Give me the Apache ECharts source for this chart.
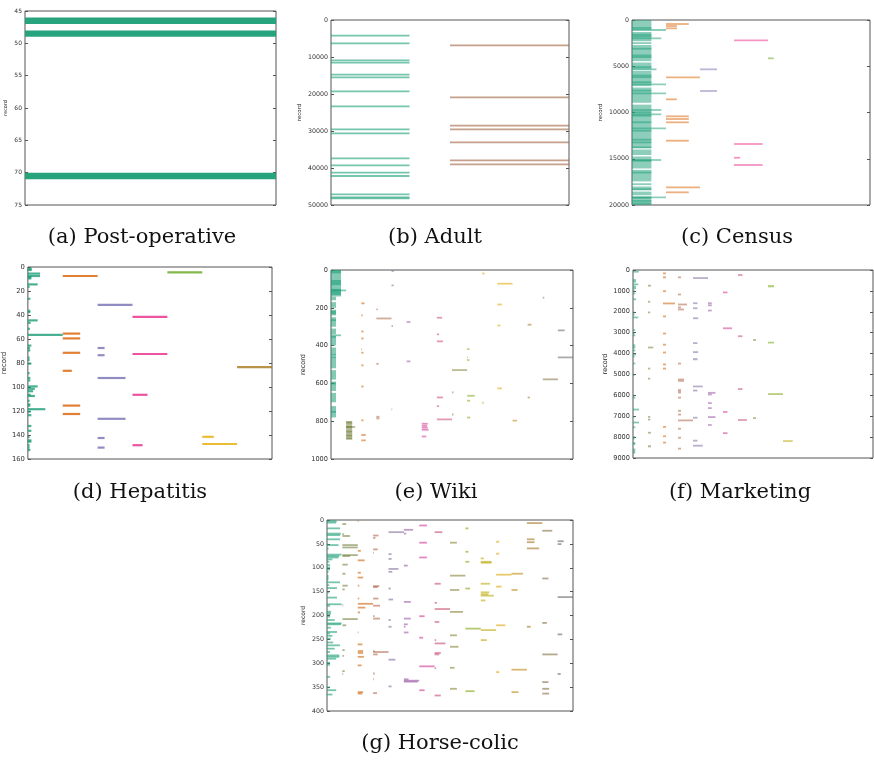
<!DOCTYPE html>
<html>
<head>
<meta charset="utf-8">
<script src="https://cdn.jsdelivr.net/npm/echarts@6/dist/echarts.min.js"></script>
<style>
  html, body { margin: 0; padding: 0; background: #fff; }
  #chart { width: 874px; height: 762px; }
</style>
</head>
<body>
<div id="chart"></div>
<script>
// each segment: [column, length (in columns), record, records spanned (default 1)]
const postopSegs = [[0, 1, 46], [0, 1, 48], [0, 1, 70]];

const adultGreen = [4234, 6306, 10900, 11532, 14775, 15495, 19279, 23333, 29550, 30630,
  37387, 39279, 41261, 42162, 47117, 47928, 48198];
const adultBrown = [6847, 20900, 28559, 29550, 33063, 37928, 39009];

const censusBlocks = [[0, 1100], [1300, 2300], [2400, 2600], [2700, 4450], [4600, 5350],
  [5500, 7150], [7300, 8950], [9150, 13850], [14000, 14600], [14750, 16050], [16200, 17450],
  [17650, 17850], [18000, 18400], [18550, 18950], [19100, 20000]];
const censusDark = [830, 1555, 1736, 3075, 3800, 3980, 5064, 5968, 6150, 6690, 7600, 9950,
  10310, 11030, 11940, 12910, 13200, 13745, 15190, 16460, 18270, 19170, 19530, 19790];
const censusSegs = [
  [0, 1.0, 1081], [0, 0.86, 1982], [0, 0.72, 5333], [0, 1.0, 6955], [0, 1.0, 7928],
  [0, 0.86, 9730], [0, 0.86, 10198], [0, 1.0, 11712], [0, 0.86, 15135], [0, 1.0, 19171],
  [1, 0.67, 432], [1, 0.32, 649], [1, 0.32, 900], [1, 1.0, 6198], [1, 0.32, 8576],
  [1, 0.67, 10414], [1, 0.67, 10703], [1, 0.67, 11063], [1, 0.67, 12950, 200],
  [1, 1.0, 18090], [1, 0.67, 18630],
  [2, 0.5, 5333], [2, 0.5, 7675],
  [3, 1.0, 2198], [3, 0.84, 13405], [3, 0.18, 14830, 120], [3, 0.84, 15676],
  [4, 0.17, 4144]
];

const hepatitisSegs = [
  [0, .11, 1], [0, .11, 2], [0, .35, 5], [0, .35, 7], [0, .1, 8], [0, .1, 9], [0, .28, 14],
  [0, .05, 16], [0, .07, 26], [0, .07, 36], [0, .07, 37], [0, .28, 44], [0, .08, 46],
  [0, .06, 51], [0, 1, 56], [0, .1, 65], [0, .06, 67], [0, .07, 69], [0, .05, 75],
  [0, .05, 77], [0, .1, 80], [0, .05, 88], [0, .07, 92], [0, .07, 94], [0, .28, 99],
  [0, .2, 101], [0, .15, 103], [0, .08, 106], [0, .2, 107], [0, .05, 111], [0, .07, 114],
  [0, .07, 115], [0, .5, 118], [0, .08, 120], [0, .1, 123], [0, .1, 132], [0, .1, 136],
  [0, .05, 141], [0, .1, 144], [0, .1, 145], [0, .05, 148], [0, .05, 150], [0, .07, 152],
  [1, 1, 7], [1, .5, 55], [1, .5, 59], [1, .5, 71], [1, .26, 86], [1, .5, 115], [1, .5, 122],
  [2, 1, 31], [2, .2, 67], [2, .2, 73], [2, .8, 92], [2, .8, 126], [2, .2, 142], [2, .2, 150],
  [3, 1, 41], [3, 1, 72], [3, .43, 106], [3, .29, 148],
  [4, 1, 4],
  [5, .33, 141], [5, 1, 147],
  [6, 1, 83]
];

const wikiSegs = [
  [0, .66, 0, 140], [0, .66, 0, 18], [0, .66, 53, 27], [0, .66, 100, 32],
  [0, 1, 106, 4], [0, .66, 344, 3],
  [0, .33, 141, 19], [0, .33, 170, 30], [0, .33, 210, 30], [0, .33, 250, 50],
  [0, .33, 310, 30], [0, .33, 350, 50], [0, .33, 410, 40], [0, .33, 460, 60],
  [0, .33, 530, 50], [0, .33, 590, 50], [0, .33, 650, 50], [0, .33, 720, 60],
  [0, .33, 220], [0, .33, 229], [0, .33, 265], [0, .33, 353], [0, .33, 450],
  [0, .33, 459], [0, .33, 600], [0, .33, 750],
  [1, .4, 799, 97], [1, .4, 805, 5], [1, .4, 828, 6], [1, .6, 829, 3], [1, .4, 852, 6],
  [1, .4, 873, 6], [1, .4, 888, 8],
  [2, .22, 176], [2, .1, 240], [2, .15, 325], [2, .15, 362], [2, .05, 420], [2, .15, 437],
  [2, .15, 504], [2, .15, 616], [2, .15, 795], [2, .3, 868, 10], [2, .3, 901],
  [3, .1, 208], [3, 1, 256], [3, .15, 496], [3, .2, 776], [3, .2, 785],
  [4, .15, 5], [4, .15, 81], [4, .1, 296], [4, .05, 737],
  [5, .25, 275], [5, .25, 483],
  [6, .4, 813], [6, .35, 824], [6, .4, 834], [6, .45, 845], [6, .3, 880],
  [7, .35, 252], [7, .15, 340], [7, .4, 377], [7, .4, 674], [7, .15, 720], [7, 1, 790],
  [8, 1, 529], [8, .1, 647], [8, .1, 764],
  [9, .15, 418], [9, .05, 462], [9, .15, 476], [9, .5, 665], [9, .2, 691], [9, .2, 780],
  [10, .15, 18], [10, .1, 702],
  [11, 1, 72], [11, .3, 182], [11, .2, 293], [11, .3, 626],
  [12, .3, 794, 6],
  [13, .25, 289], [13, .15, 674],
  [14, .1, 146], [14, 1, 578],
  [15, .45, 319], [15, 1, 462]
];

const marketingSegs = [
  [0, .38, 80], [0, .2, 480], [0, .2, 560], [0, .35, 690], [0, .2, 800], [0, .2, 880],
  [0, .1, 1000], [0, .15, 1120], [0, .2, 1360, 80], [0, .1, 2030], [0, .1, 2130],
  [0, .35, 2270], [0, .15, 2880], [0, .1, 3040], [0, .15, 3130], [0, .15, 3560, 200],
  [0, .15, 3850], [0, .2, 4040], [0, .1, 4140], [0, .15, 4475], [0, .1, 5030],
  [0, .1, 6010], [0, .15, 6110], [0, .4, 6680], [0, .1, 7030], [0, .4, 7300],
  [0, .15, 7530], [0, .15, 8000], [0, .1, 8070], [0, .15, 8280], [0, .15, 8330],
  [0, .15, 8550, 240],
  [1, .2, 720, 60], [1, .15, 1520], [1, .15, 2030], [1, .35, 3710], [1, .15, 4720],
  [1, .15, 5200], [1, .15, 7030], [1, .15, 7160], [1, .2, 7750, 80], [1, .2, 8390, 100],
  [2, .2, 160], [2, .2, 350], [2, .2, 990, 50], [2, .8, 1600], [2, .2, 2220], [2, .2, 3040],
  [2, .2, 3550, 50], [2, .2, 3950], [2, .2, 4520], [2, .2, 4720], [2, .2, 7510],
  [2, .2, 7960], [2, .2, 8260],
  [3, .2, 350], [3, .2, 1170], [3, .6, 1650], [3, .2, 1790], [3, .4, 1890], [3, .2, 4480],
  [3, .4, 5200, 150], [3, .2, 5700, 210], [3, .2, 6110], [3, .2, 6700, 80], [3, .2, 6920],
  [3, 1, 7200], [3, .2, 7600], [3, .2, 8030], [3, .2, 8550],
  [4, 1, 366, 40], [4, .3, 1590], [4, .3, 1830], [4, .35, 2280, 60], [4, .3, 3500],
  [4, .35, 3900, 60], [4, .3, 4220, 100], [4, .65, 5575], [4, .3, 5770], [4, .3, 7070],
  [4, .3, 8140, 60], [4, .65, 8410],
  [5, .25, 1560, 60], [5, .25, 1690], [5, .25, 1940], [5, .5, 5880], [5, .25, 5960],
  [5, .25, 6370], [5, .25, 6610], [5, .5, 7040], [5, .25, 7420],
  [6, .3, 1050, 50], [6, .6, 2770, 40], [6, .3, 6770, 50], [6, .3, 7810],
  [7, .3, 240], [7, .3, 3170], [7, .3, 5700], [7, .6, 7180],
  [8, .2, 3350], [8, .2, 7090],
  [9, .4, 720, 110], [9, .4, 3440, 70], [9, 1, 5940],
  [10, .65, 8190]
];

const horseSegs = [
  [0, .63, 2], [0, .6, 5], [0, .85, 17], [0, .9, 28], [0, .85, 31], [0, .85, 40],
  [0, .1, 51], [0, .75, 52], [0, .1, 59, 2], [0, .95, 72], [0, .8, 75], [0, .75, 78],
  [0, .35, 82], [0, .15, 87], [0, .2, 94], [0, .2, 99], [0, .2, 103], [0, .1, 108],
  [0, .1, 115, 11], [0, .85, 130], [0, .15, 136], [0, .65, 142], [0, .15, 151],
  [0, .65, 162], [0, .95, 176], [0, .2, 179], [0, .25, 190, 9], [0, .2, 202], [0, .5, 209],
  [0, .95, 216], [0, .9, 218], [0, .25, 225], [0, .65, 234], [0, .2, 237], [0, .35, 242],
  [0, .25, 248], [0, .4, 256], [0, .85, 262], [0, .5, 269], [0, .2, 276], [0, .8, 283],
  [0, .8, 286], [0, .6, 290], [0, .2, 297, 8], [0, .2, 328], [0, .2, 350], [0, .6, 356],
  [0, .35, 365],
  [1, .25, 8], [1, .1, 29], [1, .5, 33], [1, 1, 52], [1, 1, 57], [1, 1, 73], [1, .5, 75],
  [1, .35, 93], [1, .2, 112], [1, .35, 137], [1, .15, 145], [1, .05, 178], [1, 1, 207],
  [1, .25, 220], [1, .15, 272], [1, .1, 284], [1, .15, 316], [1, .05, 322],
  [2, .05, 2], [2, .2, 64], [2, .45, 84], [2, .2, 110], [2, .35, 120], [2, .1, 137],
  [2, .1, 164], [2, 1, 175], [2, .5, 183], [2, .15, 193], [2, .05, 235], [2, .3, 260],
  [2, .35, 274], [2, .35, 278], [2, .4, 286], [2, .25, 304], [2, .35, 360], [2, .3, 363],
  [3, .35, 32], [3, .15, 37], [3, .3, 61], [3, .05, 68], [3, .4, 138], [3, .3, 140],
  [3, .35, 164], [3, .45, 179], [3, .1, 201], [3, .45, 206], [3, .1, 274], [3, 1, 276],
  [3, .3, 281], [3, .1, 321], [3, .05, 333], [3, .25, 362],
  [4, 1, 25], [4, .2, 71], [4, .2, 81], [4, .65, 102], [4, .25, 108], [4, .15, 143],
  [4, .3, 166], [4, .15, 209], [4, .2, 223], [4, .45, 292], [4, .2, 348],
  [5, .6, 20], [5, .15, 28], [5, .25, 95], [5, .45, 171], [5, .45, 206], [5, .25, 218],
  [5, .1, 223], [5, .3, 235], [5, 1, 336], [5, .9, 338], [5, .3, 333],
  [6, .5, 11], [6, .5, 47], [6, .5, 78], [6, .35, 201], [6, .25, 246], [6, 1, 306],
  [6, .35, 356],
  [7, .5, 25], [7, .4, 133], [7, .15, 173], [7, 1, 186], [7, .3, 213], [7, .1, 251],
  [7, .7, 258], [7, .4, 278], [7, .3, 281], [7, .1, 310], [7, .4, 367],
  [8, .45, 47], [8, 1, 116], [8, .6, 146], [8, .85, 192], [8, .45, 241], [8, .55, 265],
  [8, .3, 309], [8, .45, 353],
  [9, .2, 17], [9, .2, 66], [9, .25, 87], [9, .3, 143], [9, 1, 227], [9, .6, 358],
  [10, .2, 80], [10, .7, 87], [10, .7, 89], [10, .6, 133], [10, .55, 151], [10, .5, 155],
  [10, .85, 158], [10, .3, 168], [10, 1, 230], [10, .4, 251],
  [11, .2, 45], [11, .2, 70], [11, 1, 114], [11, .35, 139], [11, .6, 220], [11, .2, 318],
  [12, .75, 112], [12, .4, 146], [12, 1, 313], [12, .45, 360],
  [13, 1, 6], [13, .5, 40], [13, .5, 46], [13, .8, 59], [13, .25, 223],
  [14, .65, 22], [14, .4, 122], [14, .3, 215], [14, 1, 281], [14, .4, 339], [14, .45, 353],
  [14, .45, 363],
  [15, .4, 44], [15, .25, 50], [15, 1, 161], [15, .3, 239], [15, .2, 322]
];

const captions = ['(a) Post-operative', '(b) Adult', '(c) Census', '(d) Hepatitis',
  '(e) Wiki', '(f) Marketing', '(g) Horse-colic'];

// colours (Dark2 and a 16-step blend of it)
const dark2 = ['#1b9e77', '#d95f02', '#7570b3', '#e7298a', '#66a61e', '#e6ab02', '#a6761d'];
const dark2x16 = ['#1b9e77', '#748140', '#cc630a', '#b16649', '#826e9b', '#9b58a6', '#d03892',
  '#c44b6d', '#89843b', '#80a718', '#bcaa0b', '#dea506', '#c08b12', '#a27522', '#846e44', '#666666'];

const toItems = segs => segs.map(s => [s[0], s[0] + s[1], s[2], s[2] + (s[3] || 1), s[0]]);

const censusAll = []
  .concat(censusBlocks.map(b => [0, 0.57, b[0], b[1] - b[0]]))
  .concat(censusDark.map(r => [0, 0.57, r, 60]))
  .concat(censusSegs);
const adultAll = adultGreen.map(r => [0, 0.66, r]).concat(adultBrown.map(r => [1, 1, r]));

const panels = [
  { box: [25, 11, 251, 194], xMax: 1, y: [45, 75, 5], data: postopSegs, pal: dark2, op: 0.95, minH: 2, fs: 6, nfs: 5, gap: 17, cap: [142, 238] },
  { box: [331, 20, 238, 185], xMax: 2, y: [0, 50000, 10000], data: adultAll, pal: ['#1b9e77', '#a0603f'], op: 0.6, minH: 1.8, fs: 6.3, nfs: 5.5, gap: 28, cap: [435, 238] },
  { box: [632, 20, 238, 185], xMax: 7, y: [0, 20000, 5000], data: censusAll, pal: dark2, op: 0.5, minH: 1.8, fs: 6.3, nfs: 5.5, gap: 28, cap: [737, 238] },
  { box: [25, 267, 247, 192], xMax: 7, y: [0, 160, 20], data: hepatitisSegs, pal: dark2, op: 0.8, minH: 2.2, fs: 6.8, nfs: 7, gap: 19, cap: [140, 493] },
  { box: [331, 270, 242, 189], xMax: 16, y: [0, 1000, 200], data: wikiSegs, pal: dark2x16, op: 0.55, minH: 1.8, fs: 6.6, nfs: 6.5, gap: 24, cap: [436, 493] },
  { box: [633, 270, 240, 188], xMax: 16, y: [0, 9000, 1000], data: marketingSegs, pal: dark2x16, op: 0.55, minH: 1.8, fs: 6.6, nfs: 6.5, gap: 24, cap: [740, 493] },
  { box: [327, 520, 246, 191], xMax: 16, y: [0, 400, 50], data: horseSegs, pal: dark2x16, op: 0.6, minH: 1.8, fs: 6.3, nfs: 6, gap: 21, cap: [440, 744] }
];

function makeRender(pal, minH, op) {
  return function (params, api) {
    const a = api.coord([api.value(0), api.value(2)]);
    const b = api.coord([api.value(1), api.value(3)]);
    let top = Math.min(a[1], b[1]);
    let h = Math.abs(b[1] - a[1]);
    if (h < minH) {
      top = (a[1] + b[1]) / 2 - minH / 2;
      h = minH;
    }
    return {
      type: 'rect',
      shape: { x: a[0], y: top, width: b[0] - a[0], height: h },
      style: { fill: pal[api.value(4)], opacity: op }
    };
  };
}

const grid = [], xAxis = [], yAxis = [], series = [], graphic = [];
panels.forEach((p, i) => {
  grid.push({
    left: p.box[0], top: p.box[1], width: p.box[2], height: p.box[3],
    show: true, borderColor: '#555', borderWidth: 1, backgroundColor: '#fff'
  });
  xAxis.push({ gridIndex: i, type: 'value', min: 0, max: p.xMax, show: false });
  const common = {
    gridIndex: i, type: 'value', inverse: true,
    min: p.y[0], max: p.y[1], interval: p.y[2],
    axisLine: { show: false },
    splitLine: { show: false },
    axisTick: { show: true, inside: true, length: 3, lineStyle: { color: '#555' } }
  };
  yAxis.push(Object.assign({}, common, {
    position: 'left',
    name: 'record', nameLocation: 'middle', nameGap: p.gap,
    nameTextStyle: { fontSize: p.nfs, color: '#222', fontFamily: 'DejaVu Sans' },
    axisLabel: {
      fontSize: p.fs, color: '#333', margin: 3, fontFamily: 'DejaVu Sans',
      formatter: v => String(v)
    }
  }));
  yAxis.push(Object.assign({}, common, { position: 'right', axisLabel: { show: false } }));
  series.push({
    type: 'custom',
    xAxisIndex: i,
    yAxisIndex: i * 2,
    renderItem: makeRender(p.pal, p.minH, p.op),
    encode: { x: [0, 1], y: [2, 3] },
    data: toItems(p.data),
    silent: true
  });
  graphic.push({
    type: 'text',
    x: p.cap[0], y: p.cap[1],
    style: {
      text: captions[i], textAlign: 'center', textVerticalAlign: 'middle',
      fontSize: 21, fontFamily: 'DejaVu Serif', fill: '#111'
    }
  });
});

const myChart = echarts.init(document.getElementById('chart'));
myChart.setOption({
  animation: false,
  backgroundColor: '#fff',
  grid: grid,
  xAxis: xAxis,
  yAxis: yAxis,
  series: series,
  graphic: graphic
});
</script>
</body>
</html>
